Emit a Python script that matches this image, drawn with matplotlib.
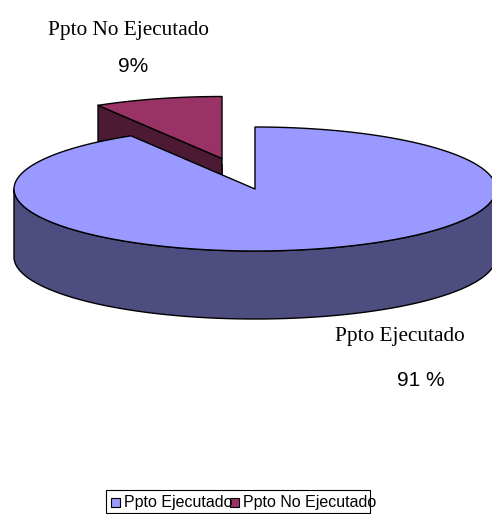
import numpy as np
import matplotlib
matplotlib.use("Agg")
import matplotlib.pyplot as plt
from matplotlib.patches import Polygon, Rectangle

categories = ["Ppto Ejecutado", "Ppto No Ejecutado"]
shares = [91.4, 8.6]
value_labels = ["91 %", "9%"]

top_colors = ["#9999FF", "#993366"]
side_colors = ["#4D4D80", "#4D1A33"]

W, H = 492, 514
RX, RY, DEPTH = 241, 62, 68
CENTER = (255, 189)
EXPLODED_CENTER = (222, 158.5)
EDGE = dict(edgecolor="black", linewidth=1.0, joinstyle="round")

fig = plt.figure(figsize=(W / 100, H / 100), dpi=100)
ax = fig.add_axes([0, 0, 1, 1])
ax.set_xlim(0, W)
ax.set_ylim(H, 0)
ax.axis("off")


def ell(c, a):
    # angle a clockwise from 12 o'clock, degrees
    a = np.radians(a)
    return np.column_stack([c[0] + RX * np.sin(a), c[1] - RY * np.cos(a)])


def sector(c, a0, a1):
    arc = ell(c, np.linspace(a0, a1, 240))
    return np.vstack([[c], arc])


a_main = 360 * shares[0] / sum(shares)

# exploded slice, drawn first so the main pie covers its lower part
c = EXPLODED_CENTER
top = sector(c, a_main, 360)
ax.add_patch(Polygon(top + [0, DEPTH], closed=True, facecolor=side_colors[1], zorder=1, **EDGE))
# extruded cut face
corner = ell(c, a_main)[0]
face = np.array([corner, c, np.array(c) + [0, DEPTH], corner + [0, DEPTH]])
ax.add_patch(Polygon(face, closed=True, facecolor=side_colors[1], zorder=1, **EDGE))
ax.add_patch(Polygon(top, closed=True, facecolor=top_colors[1], zorder=2, **EDGE))

# main slice: visible wall along the front half of the rim
front = ell(CENTER, np.linspace(90, 270, 300))
wall = np.vstack([front, front[::-1] + [0, DEPTH]])
ax.add_patch(Polygon(wall, closed=True, facecolor=side_colors[0], zorder=3, **EDGE))
ax.add_patch(Polygon(sector(CENTER, 0, a_main), closed=True, facecolor=top_colors[0], zorder=4, **EDGE))

# data labels
serif = "Liberation Serif"
sans = "Liberation Sans"
ax.text(128, 30, categories[1], family=serif, fontsize=15.3, ha="center", va="center", zorder=6)
ax.text(133.5, 67, value_labels[1], family=sans, fontsize=15, ha="center", va="center", zorder=6)
ax.text(400, 336, categories[0], family=serif, fontsize=15.3, ha="center", va="center", zorder=6)
ax.text(421, 381, value_labels[0], family=sans, fontsize=15, ha="center", va="center", zorder=6)

# legend
ax.add_patch(Rectangle((106, 490), 264, 23, facecolor="white", edgecolor="black", linewidth=0.8, zorder=5))
for x, col, tx, label in zip((111, 230), top_colors, (124.5, 243), categories):
    ax.add_patch(Rectangle((x, 497.5), 9, 9, facecolor=col, edgecolor="black", linewidth=0.8, zorder=6))
    ax.text(tx, 503, label, family=sans, fontsize=11.5, ha="left", va="center", zorder=7)

fig.savefig("out.png", dpi=100, facecolor="white")
